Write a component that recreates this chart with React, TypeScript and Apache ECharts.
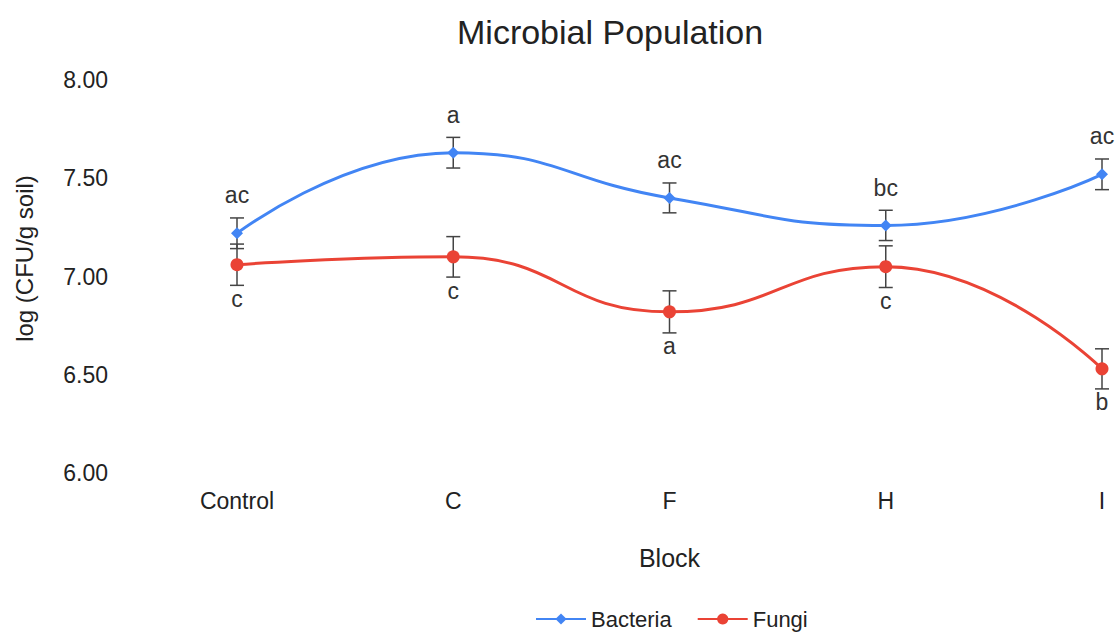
import React, { useEffect, useRef } from "react";
import * as echarts from "echarts";

const categories = ["Control", "C", "F", "H", "I"];
const bacteria = [7.22, 7.63, 7.4, 7.26, 7.52];
const fungi = [7.06, 7.1, 6.82, 7.05, 6.53];
const bacteriaErr = [0.078, 0.078, 0.076, 0.077, 0.078];
const fungiErr = [0.105, 0.103, 0.107, 0.106, 0.102];
const bacteriaLetters = ["ac", "a", "ac", "bc", "ac"];
const fungiLetters = ["c", "c", "a", "c", "b"];
const yTicks = [6, 6.5, 7, 7.5, 8];

const FONT = "'Liberation Sans', Arial, sans-serif";
const BLUE = "#4285F4";
const RED = "#EA4335";
const TXT = "#222222";

function errorSeries(name: string, vals: number[], errs: number[], letters: string[], above: boolean) {
  return {
    type: "custom",
    name,
    z: 1,
    silent: true,
    data: vals.map((v, i) => [i, v - errs[i], v + errs[i], letters[i]]),
    renderItem: (params: any, api: any) => {
      const x = api.value(0);
      const lo = api.coord([x, api.value(1)]);
      const hi = api.coord([x, api.value(2)]);
      const idx = params.dataIndex;
      const cap = 7;
      const stroke = { stroke: "#444444", lineWidth: 1.5 };
      return {
        type: "group",
        children: [
          { type: "line", shape: { x1: lo[0], y1: lo[1], x2: hi[0], y2: hi[1] }, style: stroke },
          { type: "line", shape: { x1: lo[0] - cap, y1: lo[1], x2: lo[0] + cap, y2: lo[1] }, style: stroke },
          { type: "line", shape: { x1: hi[0] - cap, y1: hi[1], x2: hi[0] + cap, y2: hi[1] }, style: stroke },
          {
            type: "text",
            x: hi[0],
            y: above ? hi[1] - 11 : lo[1] + 2,
            style: {
              text: letters[idx],
              fill: "#333333",
              font: `23px ${FONT}`,
              align: "center",
              verticalAlign: above ? "bottom" : "top",
            },
          },
        ],
      };
    },
  };
}

export default function App() {
  const ref = useRef<HTMLDivElement>(null);
  useEffect(() => {
    if (!ref.current) return;
    const chart = echarts.init(ref.current, undefined, { renderer: "svg" });
    chart.setOption({
      animation: false,
      backgroundColor: "#ffffff",
      textStyle: { fontFamily: FONT },
      title: {
        text: "Microbial Population",
        left: 452,
        top: 10,
        textStyle: { fontSize: 34, fontWeight: "normal", color: TXT, fontFamily: FONT },
      },
      legend: {
        data: ["Bacteria", "Fungi"],
        left: 530,
        top: 603,
        itemWidth: 50,
        itemHeight: 14,
        itemGap: 25,
        textStyle: { fontSize: 22, color: TXT, fontFamily: FONT },
      },
      grid: { left: 237, right: 17, top: 80, bottom: 160 },
      xAxis: {
        type: "category",
        data: categories,
        boundaryGap: false,
        name: "Block",
        nameLocation: "middle",
        nameGap: 72,
        nameTextStyle: { fontSize: 25, color: TXT, fontFamily: FONT },
        axisLine: { show: false },
        axisTick: { show: false },
        axisLabel: { fontSize: 23, color: TXT, margin: 16, fontFamily: FONT },
        splitLine: { show: false },
      },
      yAxis: {
        type: "value",
        min: yTicks[0],
        max: yTicks[yTicks.length - 1],
        interval: 0.5,
        name: "log (CFU/g soil)",
        nameLocation: "middle",
        nameGap: 201,
        nameTextStyle: { fontSize: 24, color: TXT, fontFamily: FONT, padding: [0, 0, 0, 36] },
        axisLine: { show: false },
        axisTick: { show: false },
        splitLine: { show: false },
        axisLabel: {
          fontSize: 23,
          color: TXT,
          margin: 129,
          fontFamily: FONT,
          formatter: (v: number) => v.toFixed(2),
        },
      },
      series: [
        {
          type: "line",
          name: "Bacteria",
          data: bacteria,
          smooth: 0.5,
          symbol: "diamond",
          symbolSize: 12,
          z: 3,
          lineStyle: { color: BLUE, width: 3 },
          itemStyle: { color: BLUE },
        },
        {
          type: "line",
          name: "Fungi",
          data: fungi,
          smooth: 0.5,
          symbol: "circle",
          symbolSize: 13,
          z: 3,
          lineStyle: { color: RED, width: 3 },
          itemStyle: { color: RED },
        },
        errorSeries("BacteriaErr", bacteria, bacteriaErr, bacteriaLetters, true),
        errorSeries("FungiErr", fungi, fungiErr, fungiLetters, false),
      ],
    });
    return () => chart.dispose();
  }, []);
  return <div ref={ref} style={{ width: 1119, height: 633, position: "absolute", left: 0, top: 0 }} />;
}
